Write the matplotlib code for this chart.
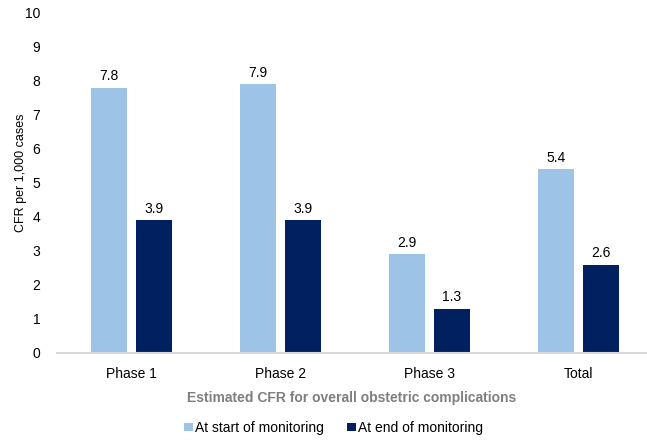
import matplotlib
matplotlib.use("Agg")
import matplotlib.pyplot as plt
import numpy as np

plt.rcParams['font.family'] = ['Liberation Sans', 'DejaVu Sans']

categories = ["Phase 1", "Phase 2", "Phase 3", "Total"]
start_values = [7.8, 7.9, 2.9, 5.4]
end_values = [3.9, 3.9, 1.3, 2.6]
series_names = ["At start of monitoring", "At end of monitoring"]
y_ticks = list(range(0, 11))

light = "#9DC3E6"
dark = "#002060"

fig = plt.figure(figsize=(6.47, 4.41), dpi=100)
ax = fig.add_axes([57 / 647, 1 - 353 / 441, 1 - 57 / 647, 340 / 441])

x = np.arange(len(categories))
w = 0.24
off = 0.15
b1 = ax.bar(x - off, start_values, w, color=light, label=series_names[0])
b2 = ax.bar(x + off, end_values, w, color=dark, label=series_names[1])

for bars, vals in ((b1, start_values), (b2, end_values)):
    for rect, v in zip(bars, vals):
        ax.text(rect.get_x() + rect.get_width() / 2, v + 0.13, f"{v:.1f}",
                ha="center", va="bottom", fontsize=10, color="#000000")

ax.set_ylim(0, 10)
ax.set_xlim(-0.5, 3.46)
ax.set_yticks(y_ticks)
ax.set_xticks(x)
ax.set_xticklabels(categories)
ax.tick_params(axis="both", length=0, labelsize=10, colors="#000000")
ax.tick_params(axis="x", pad=10)
ax.tick_params(axis="y", pad=12)

for side in ("top", "right", "left"):
    ax.spines[side].set_visible(False)
ax.spines["bottom"].set_color("#D9D9D9")
ax.spines["bottom"].set_linewidth(1.5)

ax.set_ylabel("CFR per 1,000 cases", fontsize=9)
ax.yaxis.set_label_coords(-0.05, 0.53)
ax.set_xlabel("Estimated CFR for overall obstetric complications", fontsize=10,
              fontweight="bold", color="#7F7F7F", labelpad=7)

fig.legend(handles=[b1, b2], labels=series_names, loc="lower center",
           bbox_to_anchor=(0.5 + 10 / 647, -0.005), ncol=2, frameon=False,
           fontsize=10, handlelength=0.6, handleheight=0.6, handletextpad=0.15,
           columnspacing=1.7, borderaxespad=0.2)

fig.savefig("out.png", dpi=100)
